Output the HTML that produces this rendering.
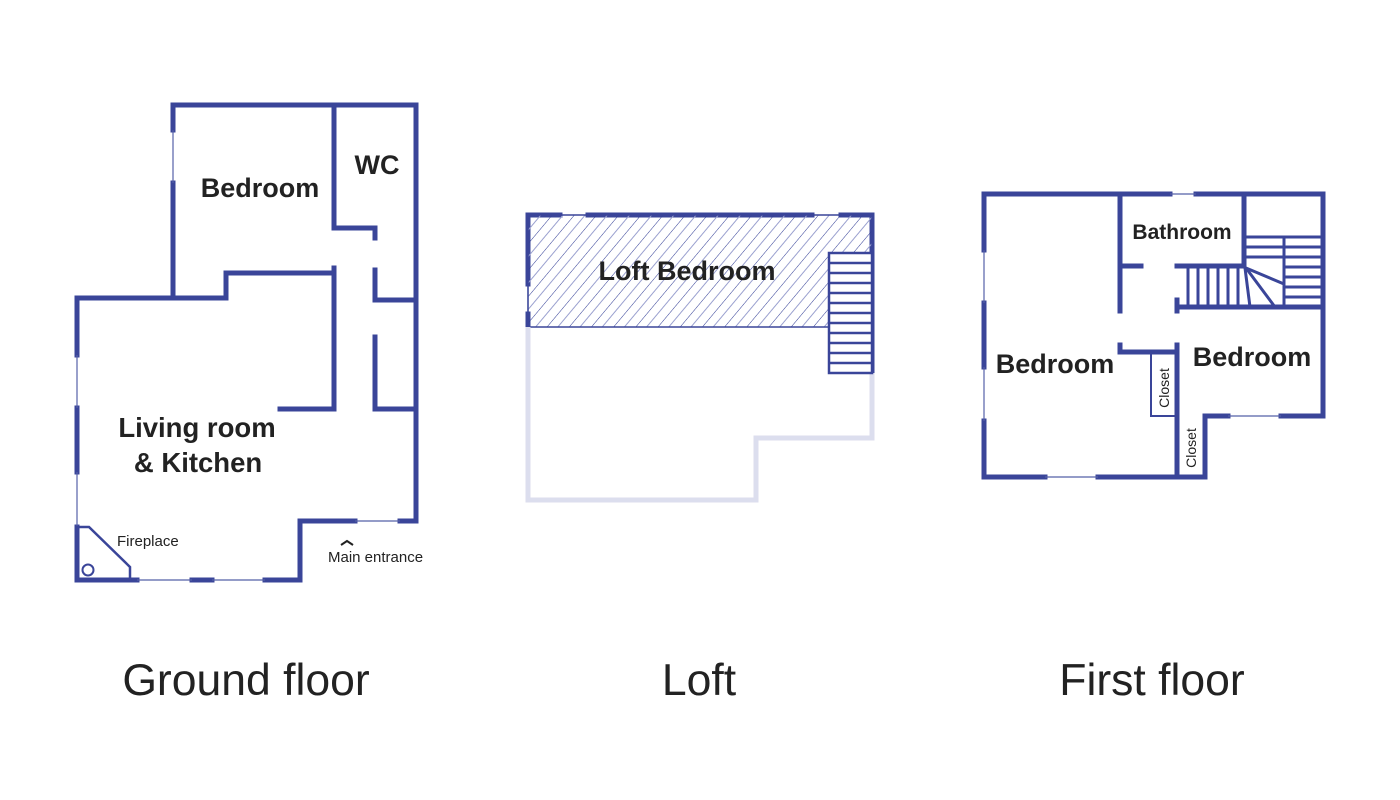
<!DOCTYPE html>
<html><head><meta charset="utf-8"><style>
html,body{margin:0;padding:0;background:#fff;}
svg{display:block;}
text{font-family:"Liberation Sans",sans-serif;fill:#222;}
.b{font-weight:bold;}
</style></head><body>
<svg width="1400" height="800" viewBox="0 0 1400 800" xmlns="http://www.w3.org/2000/svg">
<defs>
<pattern id="h" patternUnits="userSpaceOnUse" width="17" height="17" patternTransform="rotate(40)">
<line x1="0" y1="0" x2="0" y2="17" stroke="#2e3a94" stroke-width="1"/>
<line x1="8.5" y1="0" x2="8.5" y2="17" stroke="#9aa0cf" stroke-width="1"/>
</pattern>
</defs>
<g fill="none" stroke="#3a4599" stroke-width="5" stroke-linecap="square">
<polyline points="173,130 173,105 416,105 416,521 400,521"/>
<line x1="173" y1="183" x2="173" y2="298"/>
<polyline points="334,105 334,228 375,228 375,238"/>
<polyline points="375,270 375,300 416,300"/>
<polyline points="375,337 375,409 416,409"/>
<polyline points="77,355 77,298 226,298 226,273 334,273"/>
<polyline points="334,268 334,409 280,409"/>
<line x1="77" y1="408" x2="77" y2="472"/>
<polyline points="77,527 77,580 137,580"/>
<line x1="192" y1="580" x2="212" y2="580"/>
<polyline points="265,580 300,580 300,521 355,521"/>
<polyline points="528,284 528,215 560,215"/>
<line x1="588" y1="215" x2="812" y2="215"/>
<polyline points="841,215 872,215 872,373"/>
<line x1="528" y1="314" x2="528" y2="327"/>
<polyline points="984,250 984,194 1170,194"/>
<polyline points="1196,194 1323,194 1323,416 1281,416"/>
<line x1="984" y1="303" x2="984" y2="367"/>
<polyline points="984,421 984,477 1045,477"/>
<polyline points="1098,477 1205,477 1205,416 1228,416"/>
<line x1="1177" y1="416" x2="1177" y2="477"/>
<line x1="1120" y1="194" x2="1120" y2="311"/>
<line x1="1120" y1="266" x2="1141" y2="266"/>
<line x1="1244" y1="194" x2="1244" y2="266"/>
<line x1="1177" y1="266" x2="1244" y2="266"/>
<line x1="1177" y1="307" x2="1323" y2="307"/>
<line x1="1177" y1="300" x2="1177" y2="311"/>
<polyline points="1120,345 1120,352 1177,352"/>
<line x1="1177" y1="345" x2="1177" y2="416"/>
</g>
<g stroke="#5560a8" stroke-width="1.2">
<line x1="173" y1="130" x2="173" y2="183"/>
<line x1="77" y1="355" x2="77" y2="408"/>
<line x1="77" y1="472" x2="77" y2="527"/>
<line x1="137" y1="580" x2="192" y2="580"/>
<line x1="212" y1="580" x2="265" y2="580"/>
<line x1="355" y1="521" x2="400" y2="521"/>
<line x1="1170" y1="194" x2="1196" y2="194"/>
<line x1="984" y1="250" x2="984" y2="303"/>
<line x1="984" y1="367" x2="984" y2="421"/>
<line x1="1045" y1="477" x2="1098" y2="477"/>
<line x1="1228" y1="416" x2="1281" y2="416"/>
<line x1="528" y1="284" x2="528" y2="314"/>
</g>
<polygon points="77,527 89,527 130,567 130,580 77,580" fill="none" stroke="#3a4599" stroke-width="2.5"/>
<circle cx="88" cy="570" r="5.5" fill="none" stroke="#3a4599" stroke-width="2"/>
<polyline points="341,545 347,541 353,545" fill="none" stroke="#222" stroke-width="2"/>
<rect x="528" y="215" width="344" height="112" fill="url(#h)"/>
<rect x="528" y="215" width="344" height="112" fill="none" stroke="#3a4599" stroke-width="1.5"/>
<polyline points="528,327 528,500 756,500 756,438 872,438 872,373" fill="none" stroke="#dcdeee" stroke-width="5"/>
<rect x="829" y="253" width="43" height="120" fill="#fff" stroke="#3a4599" stroke-width="2.5"/>
<g stroke="#3a4599" stroke-width="2.5">
<line x1="829" y1="263" x2="872" y2="263"/><line x1="829" y1="273" x2="872" y2="273"/>
<line x1="829" y1="283" x2="872" y2="283"/><line x1="829" y1="293" x2="872" y2="293"/>
<line x1="829" y1="303" x2="872" y2="303"/><line x1="829" y1="313" x2="872" y2="313"/>
<line x1="829" y1="323" x2="872" y2="323"/><line x1="829" y1="333" x2="872" y2="333"/>
<line x1="829" y1="343" x2="872" y2="343"/><line x1="829" y1="353" x2="872" y2="353"/>
<line x1="829" y1="363" x2="872" y2="363"/>
</g>
<g stroke="#3a4599" stroke-width="3" fill="none">
<line x1="1244" y1="237" x2="1323" y2="237"/>
<line x1="1284" y1="237" x2="1284" y2="307"/>
<line x1="1244" y1="247" x2="1323" y2="247"/>
<line x1="1244" y1="257" x2="1323" y2="257"/>
<line x1="1284" y1="267" x2="1323" y2="267"/>
<line x1="1284" y1="277" x2="1323" y2="277"/>
<line x1="1284" y1="287" x2="1323" y2="287"/>
<line x1="1284" y1="297" x2="1323" y2="297"/>
<line x1="1188" y1="266" x2="1188" y2="307"/><line x1="1198" y1="266" x2="1198" y2="307"/>
<line x1="1208" y1="266" x2="1208" y2="307"/><line x1="1218" y1="266" x2="1218" y2="307"/>
<line x1="1228" y1="266" x2="1228" y2="307"/><line x1="1238" y1="266" x2="1238" y2="307"/>
<line x1="1245" y1="268" x2="1250" y2="307"/>
<line x1="1246" y1="268" x2="1275" y2="307"/>
<line x1="1246" y1="268" x2="1284" y2="284"/>
<rect x="1151" y="352" width="26" height="64" stroke-width="2"/>
</g>
<text class="b" x="260" y="197" font-size="27" text-anchor="middle">Bedroom</text>
<text class="b" x="377" y="174" font-size="27" text-anchor="middle">WC</text>
<text class="b" x="197" y="437" font-size="27.5" text-anchor="middle">Living room</text>
<text class="b" x="198" y="472" font-size="27.5" text-anchor="middle">&amp; Kitchen</text>
<text x="117" y="546" font-size="15">Fireplace</text>
<text x="328" y="562" font-size="15">Main entrance</text>
<text class="b" x="687" y="280" font-size="27" text-anchor="middle">Loft Bedroom</text>
<text class="b" x="1182" y="239" font-size="21" text-anchor="middle">Bathroom</text>
<text class="b" x="1055" y="373" font-size="27" text-anchor="middle">Bedroom</text>
<text class="b" x="1252" y="366" font-size="27" text-anchor="middle">Bedroom</text>
<text x="0" y="0" font-size="14" text-anchor="middle" transform="translate(1169,388) rotate(-90)">Closet</text>
<text x="0" y="0" font-size="14" text-anchor="middle" transform="translate(1196,448) rotate(-90)">Closet</text>
<text x="246" y="695" font-size="44.5" text-anchor="middle">Ground floor</text>
<text x="699" y="695" font-size="44.5" text-anchor="middle">Loft</text>
<text x="1152" y="695" font-size="44.5" text-anchor="middle">First floor</text>
</svg>
</body></html>
